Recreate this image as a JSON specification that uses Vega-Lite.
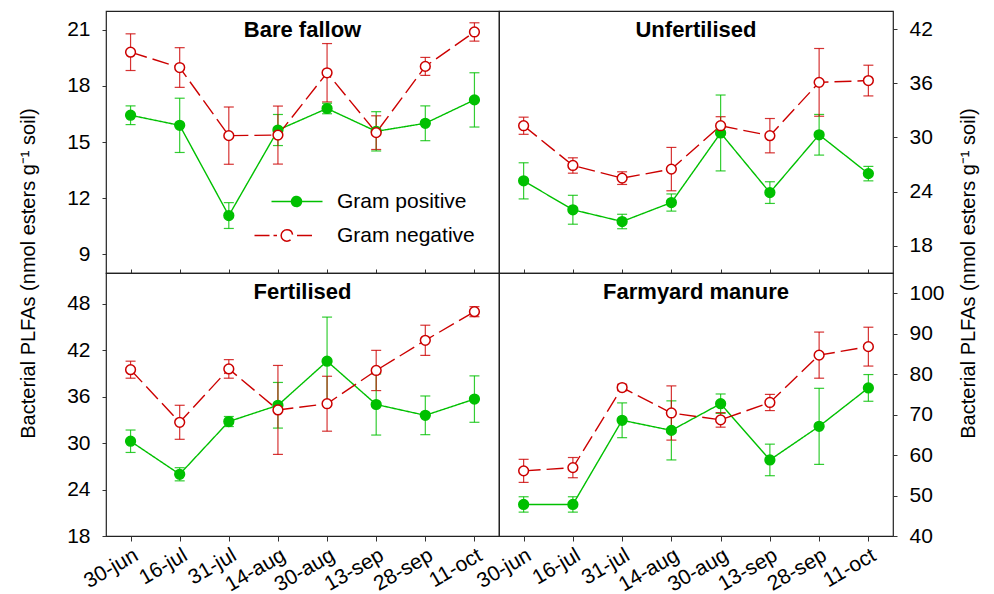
{
  "$schema": "https://vega.github.io/schema/vega-lite/v6.json",
  "padding": {"left": 17, "top": 10, "right": 10, "bottom": 30},
  "config": {
    "font": "Liberation Sans",
    "view": {"stroke": "#222", "strokeWidth": 1.2},
    "axis": {"labelFontSize": 21, "labelColor": "#000", "tickColor": "#333", "titleFontSize": 20, "titleFontWeight": "normal", "titleColor": "#000", "grid": false, "domain": false},
    "title": {"fontSize": 22, "fontWeight": "bold", "anchor": "middle", "frame": "group", "offset": -31, "baseline": "alphabetic", "color": "#000"}
  },
  "data": {"values": [
    {"panel": "Bare fallow", "series": "Gram positive", "date": "30-jun", "mean": 16.43, "se": 0.5},
    {"panel": "Bare fallow", "series": "Gram positive", "date": "16-jul", "mean": 15.89, "se": 1.45},
    {"panel": "Bare fallow", "series": "Gram positive", "date": "31-jul", "mean": 11.07, "se": 0.69},
    {"panel": "Bare fallow", "series": "Gram positive", "date": "14-aug", "mean": 15.64, "se": 0.83},
    {"panel": "Bare fallow", "series": "Gram positive", "date": "30-aug", "mean": 16.79, "se": 0.28},
    {"panel": "Bare fallow", "series": "Gram positive", "date": "13-sep", "mean": 15.57, "se": 1.05},
    {"panel": "Bare fallow", "series": "Gram positive", "date": "28-sep", "mean": 16.0, "se": 0.93},
    {"panel": "Bare fallow", "series": "Gram positive", "date": "11-oct", "mean": 17.25, "se": 1.45},
    {"panel": "Bare fallow", "series": "Gram negative", "date": "30-jun", "mean": 19.8, "se": 0.98},
    {"panel": "Bare fallow", "series": "Gram negative", "date": "16-jul", "mean": 18.98, "se": 1.06},
    {"panel": "Bare fallow", "series": "Gram negative", "date": "31-jul", "mean": 15.34, "se": 1.53},
    {"panel": "Bare fallow", "series": "Gram negative", "date": "14-aug", "mean": 15.37, "se": 1.55},
    {"panel": "Bare fallow", "series": "Gram negative", "date": "30-aug", "mean": 18.7, "se": 1.56},
    {"panel": "Bare fallow", "series": "Gram negative", "date": "13-sep", "mean": 15.5, "se": 0.9},
    {"panel": "Bare fallow", "series": "Gram negative", "date": "28-sep", "mean": 19.04, "se": 0.48},
    {"panel": "Bare fallow", "series": "Gram negative", "date": "11-oct", "mean": 20.88, "se": 0.49},
    {"panel": "Unfertilised", "series": "Gram positive", "date": "30-jun", "mean": 25.2, "se": 2.0},
    {"panel": "Unfertilised", "series": "Gram positive", "date": "16-jul", "mean": 22.0, "se": 1.6},
    {"panel": "Unfertilised", "series": "Gram positive", "date": "31-jul", "mean": 20.7, "se": 0.8},
    {"panel": "Unfertilised", "series": "Gram positive", "date": "14-aug", "mean": 22.8, "se": 0.95},
    {"panel": "Unfertilised", "series": "Gram positive", "date": "30-aug", "mean": 30.5, "se": 4.2},
    {"panel": "Unfertilised", "series": "Gram positive", "date": "13-sep", "mean": 23.9, "se": 1.2},
    {"panel": "Unfertilised", "series": "Gram positive", "date": "28-sep", "mean": 30.3, "se": 2.25},
    {"panel": "Unfertilised", "series": "Gram positive", "date": "11-oct", "mean": 26.0, "se": 0.8},
    {"panel": "Unfertilised", "series": "Gram negative", "date": "30-jun", "mean": 31.3, "se": 0.95},
    {"panel": "Unfertilised", "series": "Gram negative", "date": "16-jul", "mean": 26.9, "se": 0.85},
    {"panel": "Unfertilised", "series": "Gram negative", "date": "31-jul", "mean": 25.5, "se": 0.7},
    {"panel": "Unfertilised", "series": "Gram negative", "date": "14-aug", "mean": 26.5, "se": 2.4},
    {"panel": "Unfertilised", "series": "Gram negative", "date": "30-aug", "mean": 31.3, "se": 1.0},
    {"panel": "Unfertilised", "series": "Gram negative", "date": "13-sep", "mean": 30.2, "se": 1.9},
    {"panel": "Unfertilised", "series": "Gram negative", "date": "28-sep", "mean": 36.1, "se": 3.75},
    {"panel": "Unfertilised", "series": "Gram negative", "date": "11-oct", "mean": 36.3, "se": 1.7},
    {"panel": "Fertilised", "series": "Gram positive", "date": "30-jun", "mean": 30.25, "se": 1.45},
    {"panel": "Fertilised", "series": "Gram positive", "date": "16-jul", "mean": 25.98, "se": 0.85},
    {"panel": "Fertilised", "series": "Gram positive", "date": "31-jul", "mean": 32.8, "se": 0.65},
    {"panel": "Fertilised", "series": "Gram positive", "date": "14-aug", "mean": 34.9, "se": 2.95},
    {"panel": "Fertilised", "series": "Gram positive", "date": "30-aug", "mean": 40.6, "se": 5.7},
    {"panel": "Fertilised", "series": "Gram positive", "date": "13-sep", "mean": 35.0, "se": 3.95},
    {"panel": "Fertilised", "series": "Gram positive", "date": "28-sep", "mean": 33.6, "se": 2.5},
    {"panel": "Fertilised", "series": "Gram positive", "date": "11-oct", "mean": 35.7, "se": 3.0},
    {"panel": "Fertilised", "series": "Gram negative", "date": "30-jun", "mean": 39.5, "se": 1.1},
    {"panel": "Fertilised", "series": "Gram negative", "date": "16-jul", "mean": 32.7, "se": 2.2},
    {"panel": "Fertilised", "series": "Gram negative", "date": "31-jul", "mean": 39.6, "se": 1.2},
    {"panel": "Fertilised", "series": "Gram negative", "date": "14-aug", "mean": 34.3, "se": 5.75},
    {"panel": "Fertilised", "series": "Gram negative", "date": "30-aug", "mean": 35.1, "se": 3.55},
    {"panel": "Fertilised", "series": "Gram negative", "date": "13-sep", "mean": 39.4, "se": 2.6},
    {"panel": "Fertilised", "series": "Gram negative", "date": "28-sep", "mean": 43.3, "se": 1.95},
    {"panel": "Fertilised", "series": "Gram negative", "date": "11-oct", "mean": 47.0, "se": 0.65},
    {"panel": "Farmyard manure", "series": "Gram positive", "date": "30-jun", "mean": 47.8, "se": 1.9},
    {"panel": "Farmyard manure", "series": "Gram positive", "date": "16-jul", "mean": 47.8, "se": 1.9},
    {"panel": "Farmyard manure", "series": "Gram positive", "date": "31-jul", "mean": 68.6, "se": 4.3},
    {"panel": "Farmyard manure", "series": "Gram positive", "date": "14-aug", "mean": 66.1, "se": 7.3},
    {"panel": "Farmyard manure", "series": "Gram positive", "date": "30-aug", "mean": 72.7, "se": 2.4},
    {"panel": "Farmyard manure", "series": "Gram positive", "date": "13-sep", "mean": 58.8, "se": 3.9},
    {"panel": "Farmyard manure", "series": "Gram positive", "date": "28-sep", "mean": 67.1, "se": 9.4},
    {"panel": "Farmyard manure", "series": "Gram positive", "date": "11-oct", "mean": 76.6, "se": 3.3},
    {"panel": "Farmyard manure", "series": "Gram negative", "date": "30-jun", "mean": 56.1, "se": 2.85},
    {"panel": "Farmyard manure", "series": "Gram negative", "date": "16-jul", "mean": 56.9, "se": 2.5},
    {"panel": "Farmyard manure", "series": "Gram negative", "date": "31-jul", "mean": 76.7, "se": 0.8},
    {"panel": "Farmyard manure", "series": "Gram negative", "date": "14-aug", "mean": 70.4, "se": 6.7},
    {"panel": "Farmyard manure", "series": "Gram negative", "date": "30-aug", "mean": 68.7, "se": 1.8},
    {"panel": "Farmyard manure", "series": "Gram negative", "date": "13-sep", "mean": 73.0, "se": 2.0},
    {"panel": "Farmyard manure", "series": "Gram negative", "date": "28-sep", "mean": 84.7, "se": 5.7},
    {"panel": "Farmyard manure", "series": "Gram negative", "date": "11-oct", "mean": 86.8, "se": 4.8}
  ]},
  "concat": [
    {
      "width": 393, "height": 262,
      "title": {"text": "Bare fallow"},
      "transform": [{"filter": "datum.panel === 'Bare fallow'"}],
      "encoding": {
        "x": {"field": "date", "type": "ordinal", "sort": ["30-jun","16-jul","31-jul","14-aug","30-aug","13-sep","28-sep","11-oct"], "scale": {"type": "point", "padding": 0.5}, "axis": {"labels": false, "title": null, "tickSize": -4}},
        "y": {"field": "mean", "type": "quantitative", "scale": {"domain": [8, 22], "nice": false, "zero": false}, "axis": {"orient": "left", "values": [9, 12, 15, 18, 21], "tickSize": 4, "labelPadding": 12, "title": "Bacterial PLFAs (nmol esters g⁻¹ soil)", "titleX": -78, "titleY": 262, "titleAngle": -90, "titleBaseline": "middle", "titleAlign": "center"}},
        "color": {"field": "series", "type": "nominal", "scale": {"domain": ["Gram positive", "Gram negative"], "range": ["#00c000", "#cc0000"]},
          "legend": {"title": null, "orient": "none", "legendX": 180, "legendY": 180, "labelFontSize": 21, "labelColor": "#000", "symbolSize": 100, "labelOffset": 30, "rowPadding": 12,
            "encode": {"symbols": {"update": {
              "shape": {"signal": "datum.value === 'Gram positive' ? 'M-5,0H-1M1,0H5.2M-1,0A1,1 0 1,1 1,0A1,1 0 1,1 -1,0Z' : 'M-8.4,0H-5.4M-4.6,0H-3.9M0.1,0H3.1M-3.07,0A1.15,1.15 0 1,1 -0.77,0A1.15,1.15 0 1,1 -3.07,0Z'"},
              "fill": {"signal": "datum.value === 'Gram positive' ? '#00c000' : '#ffffff'"},
              "fillOpacity": {"signal": "datum.value === 'Gram positive' ? 1 : 0"},
              "stroke": {"signal": "datum.value === 'Gram positive' ? '#00c000' : '#cc0000'"},
              "strokeWidth": {"value": 1.5},
              "opacity": {"value": 1}
            }}}}}
      },
      "layer": [
        {"mark": {"type": "errorbar", "ticks": {"size": 10}, "thickness": 1.2, "opacity": 0.8}, "encoding": {"yError": {"field": "se"}}},
        {"mark": {"type": "line", "strokeWidth": 1.4}, "encoding": {"strokeDash": {"field": "series", "type": "nominal", "scale": {"domain": ["Gram positive", "Gram negative"], "range": [[1, 0], [17, 6]]}, "legend": null}}},
        {"mark": {"type": "point", "size": 95, "strokeWidth": 1.5, "opacity": 1, "filled": false}, "encoding": {"fill": {"field": "series", "type": "nominal", "scale": {"domain": ["Gram positive", "Gram negative"], "range": ["#00c000", "#ffffff"]}, "legend": null}}}
      ]
    },
    {
      "width": 394, "height": 262,
      "title": {"text": "Unfertilised"},
      "transform": [{"filter": "datum.panel === 'Unfertilised'"}],
      "encoding": {
        "x": {"field": "date", "type": "ordinal", "sort": ["30-jun","16-jul","31-jul","14-aug","30-aug","13-sep","28-sep","11-oct"], "scale": {"type": "point", "padding": 0.5}, "axis": {"labels": false, "title": null, "tickSize": -4}},
        "y": {"field": "mean", "type": "quantitative", "scale": {"domain": [15, 44], "nice": false, "zero": false}, "axis": {"orient": "right", "values": [18, 24, 30, 36, 42], "tickSize": 4, "labelPadding": 12, "title": "Bacterial PLFAs (nmol esters g⁻¹ soil)", "titleX": 75, "titleY": 262, "titleAngle": -90, "titleBaseline": "middle", "titleAlign": "center"}},
        "color": {"field": "series", "type": "nominal", "scale": {"domain": ["Gram positive", "Gram negative"], "range": ["#00c000", "#cc0000"]}}
      },
      "layer": [
        {"mark": {"type": "errorbar", "ticks": {"size": 10}, "thickness": 1.2, "opacity": 0.8}, "encoding": {"yError": {"field": "se"}}},
        {"mark": {"type": "line", "strokeWidth": 1.4}, "encoding": {"strokeDash": {"field": "series", "type": "nominal", "scale": {"domain": ["Gram positive", "Gram negative"], "range": [[1, 0], [17, 6]]}, "legend": null}}},
        {"mark": {"type": "point", "size": 95, "strokeWidth": 1.5, "opacity": 1, "filled": false}, "encoding": {"fill": {"field": "series", "type": "nominal", "scale": {"domain": ["Gram positive", "Gram negative"], "range": ["#00c000", "#ffffff"]}, "legend": null}}}
      ]
    },
    {
      "width": 393, "height": 263,
      "title": {"text": "Fertilised"},
      "transform": [{"filter": "datum.panel === 'Fertilised'"}],
      "encoding": {
        "x": {"field": "date", "type": "ordinal", "sort": ["30-jun","16-jul","31-jul","14-aug","30-aug","13-sep","28-sep","11-oct"], "scale": {"type": "point", "padding": 0.5}, "axis": {"title": null, "labelAngle": -30, "tickSize": 5, "labelPadding": 3, "labelFontSize": 21}},
        "y": {"field": "mean", "type": "quantitative", "scale": {"domain": [18, 52], "nice": false, "zero": false}, "axis": {"orient": "left", "values": [18, 24, 30, 36, 42, 48], "tickSize": 4, "labelPadding": 12, "title": null}},
        "color": {"field": "series", "type": "nominal", "scale": {"domain": ["Gram positive", "Gram negative"], "range": ["#00c000", "#cc0000"]}}
      },
      "layer": [
        {"mark": {"type": "errorbar", "ticks": {"size": 10}, "thickness": 1.2, "opacity": 0.8}, "encoding": {"yError": {"field": "se"}}},
        {"mark": {"type": "line", "strokeWidth": 1.4}, "encoding": {"strokeDash": {"field": "series", "type": "nominal", "scale": {"domain": ["Gram positive", "Gram negative"], "range": [[1, 0], [17, 6]]}, "legend": null}}},
        {"mark": {"type": "point", "size": 95, "strokeWidth": 1.5, "opacity": 1, "filled": false}, "encoding": {"fill": {"field": "series", "type": "nominal", "scale": {"domain": ["Gram positive", "Gram negative"], "range": ["#00c000", "#ffffff"]}, "legend": null}}}
      ]
    },
    {
      "width": 394, "height": 263,
      "title": {"text": "Farmyard manure"},
      "transform": [{"filter": "datum.panel === 'Farmyard manure'"}],
      "encoding": {
        "x": {"field": "date", "type": "ordinal", "sort": ["30-jun","16-jul","31-jul","14-aug","30-aug","13-sep","28-sep","11-oct"], "scale": {"type": "point", "padding": 0.5}, "axis": {"title": null, "labelAngle": -30, "tickSize": 5, "labelPadding": 3, "labelFontSize": 21}},
        "y": {"field": "mean", "type": "quantitative", "scale": {"domain": [40, 105], "nice": false, "zero": false}, "axis": {"orient": "right", "values": [40, 50, 60, 70, 80, 90, 100], "tickSize": 4, "labelPadding": 12, "title": null}},
        "color": {"field": "series", "type": "nominal", "scale": {"domain": ["Gram positive", "Gram negative"], "range": ["#00c000", "#cc0000"]}}
      },
      "layer": [
        {"mark": {"type": "errorbar", "ticks": {"size": 10}, "thickness": 1.2, "opacity": 0.8}, "encoding": {"yError": {"field": "se"}}},
        {"mark": {"type": "line", "strokeWidth": 1.4}, "encoding": {"strokeDash": {"field": "series", "type": "nominal", "scale": {"domain": ["Gram positive", "Gram negative"], "range": [[1, 0], [17, 6]]}, "legend": null}}},
        {"mark": {"type": "point", "size": 95, "strokeWidth": 1.5, "opacity": 1, "filled": false}, "encoding": {"fill": {"field": "series", "type": "nominal", "scale": {"domain": ["Gram positive", "Gram negative"], "range": ["#00c000", "#ffffff"]}, "legend": null}}}
      ]
    }
  ],
  "columns": 2,
  "spacing": 0,
  "bounds": "flush"
}
